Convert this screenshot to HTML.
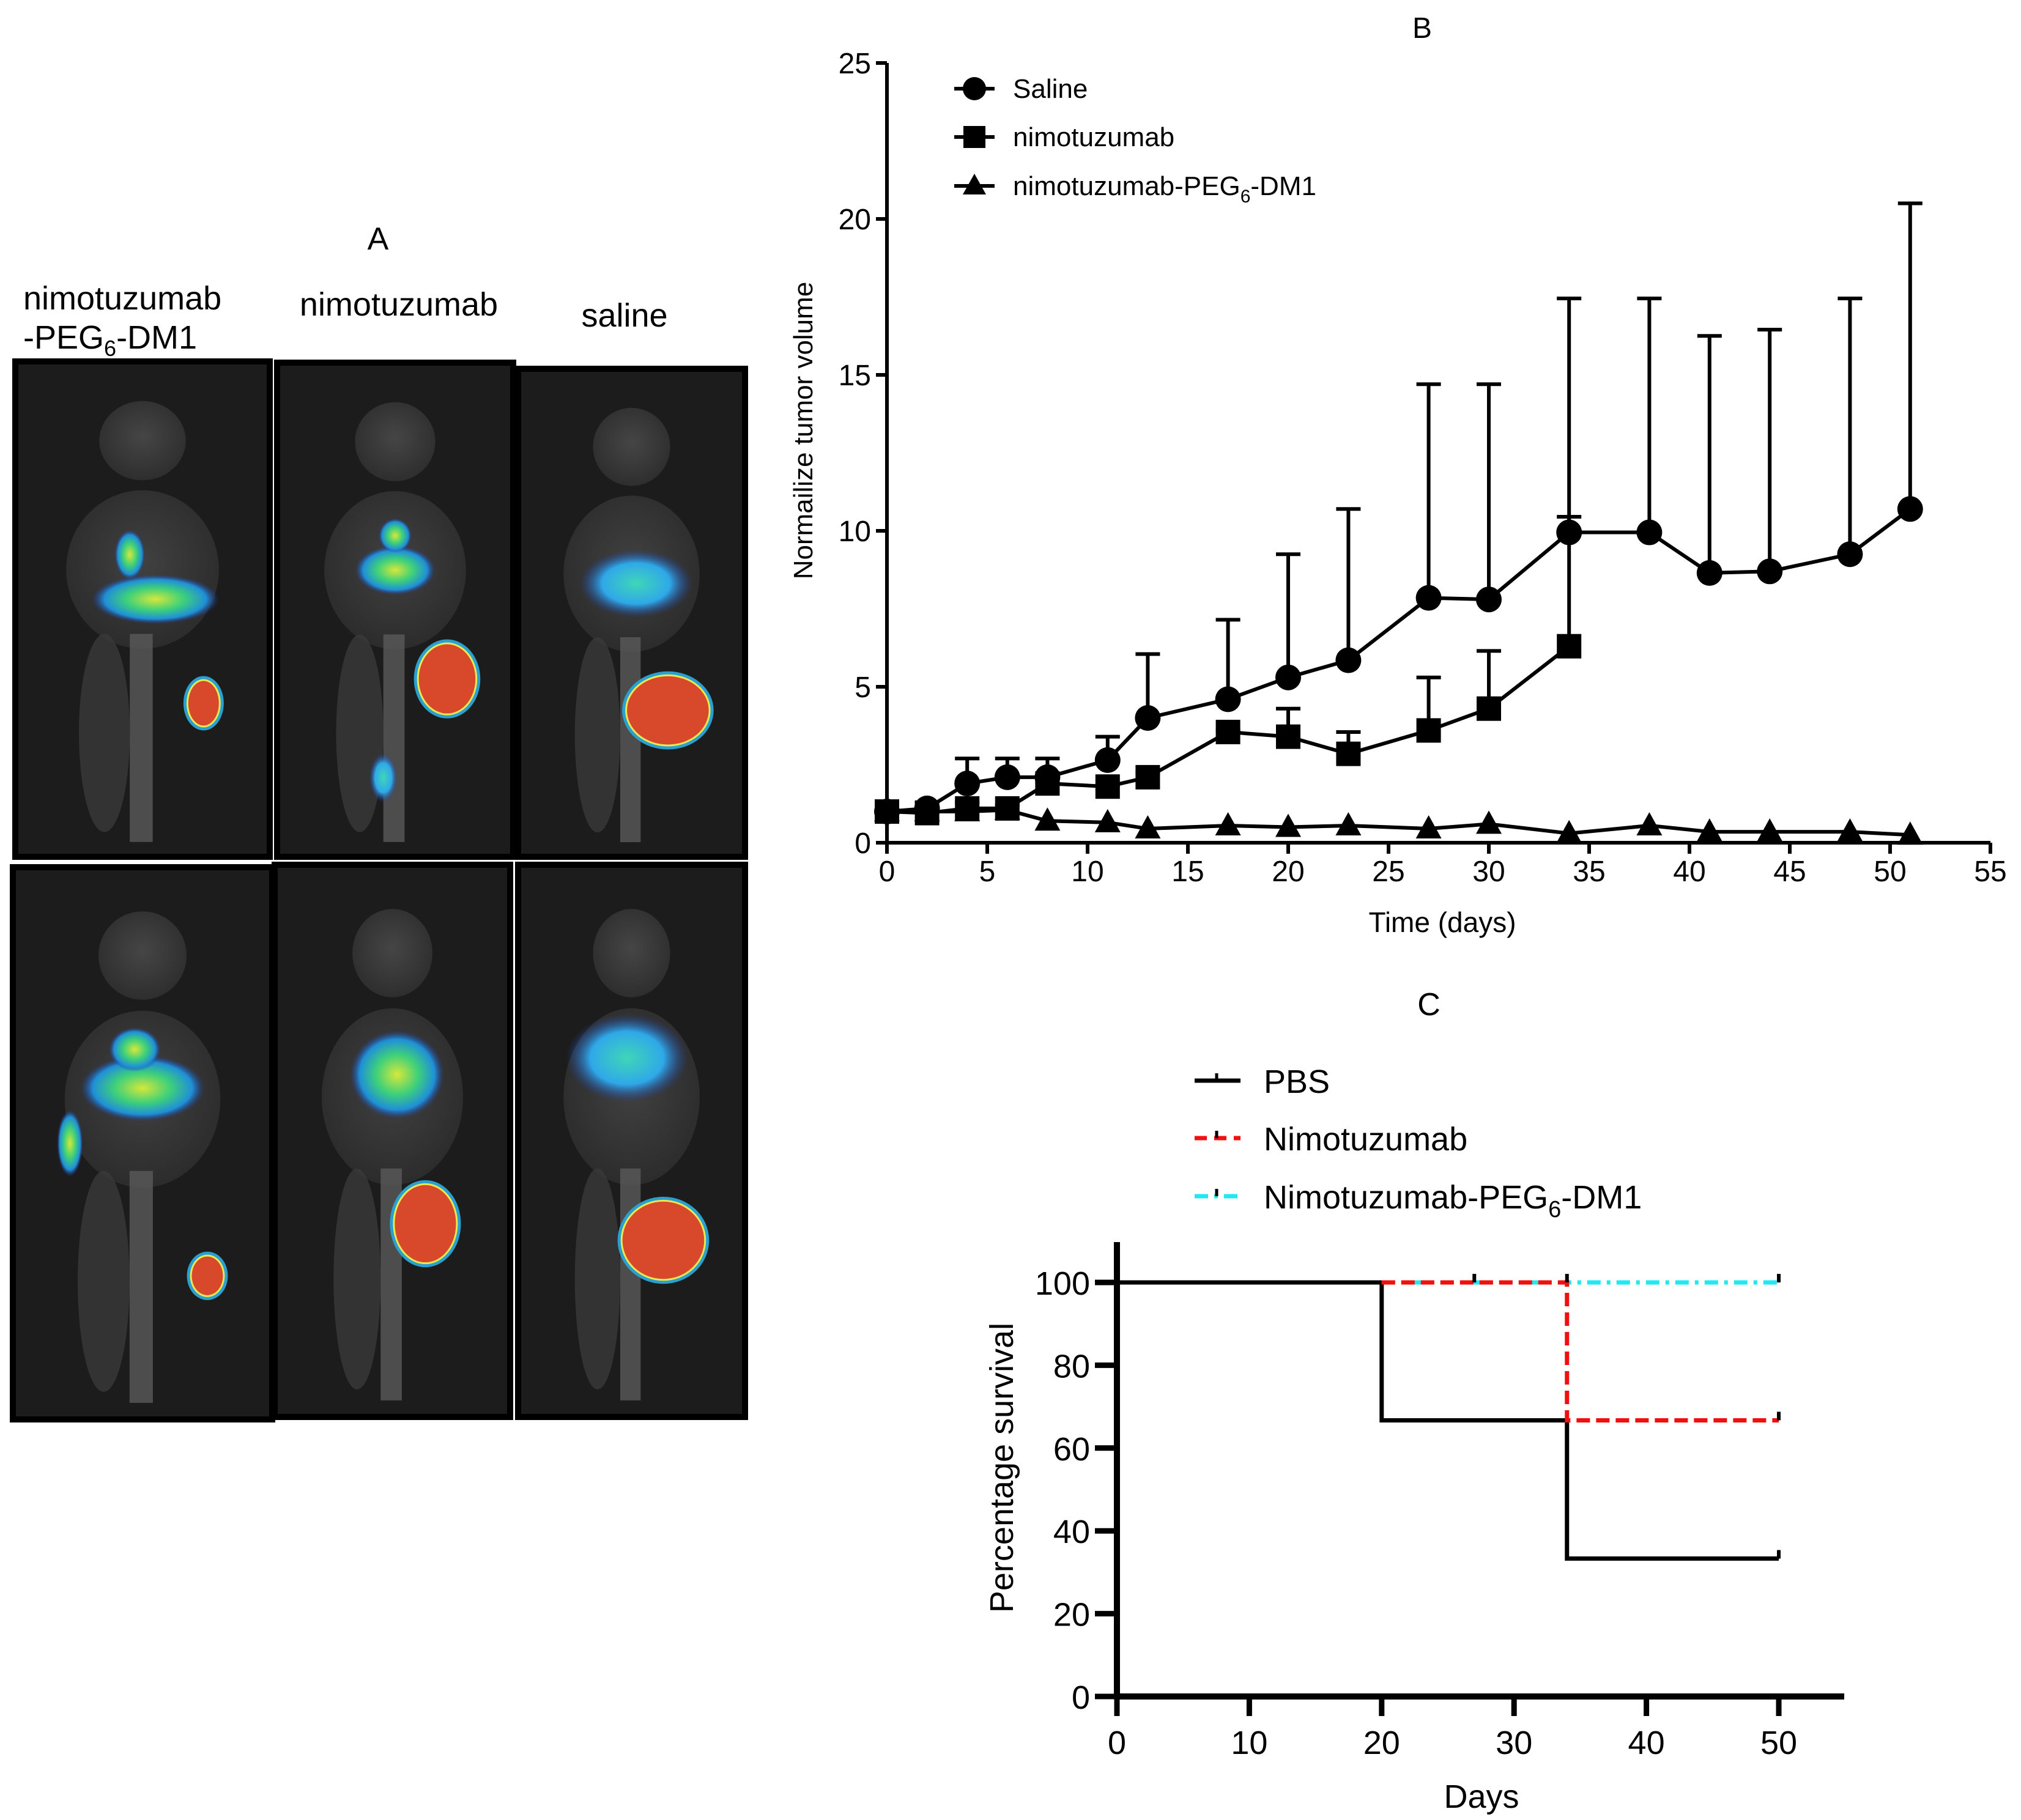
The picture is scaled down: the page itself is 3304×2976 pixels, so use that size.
<!DOCTYPE html>
<html><head><meta charset="utf-8"><style>
html,body{margin:0;padding:0;background:#fff;}
svg{display:block;font-family:"Liberation Sans",Arial,sans-serif;}
</style></head><body>
<svg id="fig" width="3304" height="2976" viewBox="0 0 3304 2976" xmlns="http://www.w3.org/2000/svg">
<defs>
<radialGradient id="organG" cx="50%" cy="50%" r="50%"><stop offset="0" stop-color="#d6e83a"/><stop offset="0.45" stop-color="#3ed07a"/><stop offset="0.8" stop-color="#1f8fd8"/><stop offset="1" stop-color="#1f3fa8" stop-opacity="0"/></radialGradient>
<radialGradient id="organB" cx="50%" cy="50%" r="50%"><stop offset="0" stop-color="#3fd6b8"/><stop offset="0.6" stop-color="#2fa8e8"/><stop offset="1" stop-color="#1f3fa8" stop-opacity="0"/></radialGradient>
<radialGradient id="body" cx="50%" cy="45%" r="55%"><stop offset="0" stop-color="#4a4a4a"/><stop offset="1" stop-color="#303030"/></radialGradient>
</defs>
<g id="panelA">
<text x="618" y="408" font-size="52" text-anchor="middle">A</text>
<text x="38" y="506" font-size="54">nimotuzumab</text>
<text x="38" y="570" font-size="54">-PEG<tspan font-size="36" dy="12">6</tspan><tspan dy="-12">-DM1</tspan></text>
<text x="652" y="516" font-size="54" text-anchor="middle">nimotuzumab</text>
<text x="1021" y="534" font-size="54" text-anchor="middle">saline</text>
</g>
<g id="chartB"></g>
<g id="chartC"></g>
</svg>
<script>
// ---------- Panel B data ----------
const bDaysSaline = [0,2,4,6,8,11,13,17,20,23,27,30,34,38,41,44,48,51];
const bSaline     = [1.0,1.1,1.9,2.1,2.1,2.65,4.0,4.6,5.3,5.85,7.85,7.8,9.95,9.95,8.65,8.7,9.25,10.7];
const bSalineErr  = [1.1,1.3,2.7,2.7,2.7,3.4,6.05,7.15,9.25,10.7,14.7,14.7,17.45,17.45,16.25,16.45,17.45,20.5];
const bDaysNimo   = [0,2,4,6,8,11,13,17,20,23,27,30,34];
const bNimo       = [1.0,0.95,1.1,1.1,1.9,1.8,2.1,3.55,3.4,2.85,3.6,4.3,6.3];
const bNimoErr    = [1.05,1.15,1.3,1.2,1.95,1.85,2.25,3.6,4.3,3.55,5.3,6.15,10.45];
const bDaysDM1    = [0,2,4,6,8,11,13,17,20,23,27,30,34,38,41,44,48,51];
const bDM1        = [1.0,1.0,1.0,1.05,0.7,0.65,0.45,0.55,0.5,0.55,0.45,0.6,0.3,0.55,0.35,0.35,0.35,0.25];
const bXTicks     = [0,5,10,15,20,25,30,35,40,45,50,55];
const bYTicks     = [0,5,10,15,20,25];
// ---------- Panel C data ----------
const cPBSx  = [0,20,20,34,34,50];
const cPBSy  = [100,100,66.7,66.7,33.3,33.3];
const cNimoX = [20,34,34,50];
const cNimoY = [100,100,66.7,66.7];
const cDM1X  = [20,50];
const cDM1Y  = [100,100];
const cCensorX = [27,34,50,50,50];
const cCensorY = [100,100,100,66.7,33.3];
const cXTicks = [0,10,20,30,40,50];
const cYTicks = [0,20,40,60,80,100];

const NS="http://www.w3.org/2000/svg";
function mk(parent,tag,attrs,text){const e=document.createElementNS(NS,tag);for(const k in attrs)e.setAttribute(k,attrs[k]);if(text!==undefined)e.textContent=text;parent.appendChild(e);return e;}

// ---------- Panel A images ----------
const pA=document.getElementById('panelA');
const boxes=[
 [25,591,416,810,{o:[[0.55,0.48,0.25,0.05,'organG'],[0.45,0.39,0.06,0.05,'organG']],t:[0.74,0.69,0.06,0.045]}],
 [453,593,386,808,{o:[[0.5,0.42,0.17,0.05,'organG'],[0.5,0.35,0.07,0.035,'organG'],[0.45,0.84,0.06,0.05,'organB']],t:[0.72,0.64,0.12,0.07]}],
 [847,603,371,798,{o:[[0.52,0.44,0.25,0.07,'organB']],t:[0.66,0.7,0.18,0.07]}],
 [21,1418,424,903,{o:[[0.5,0.4,0.24,0.06,'organG'],[0.47,0.33,0.1,0.04,'organG'],[0.22,0.5,0.05,0.06,'organG']],t:[0.75,0.74,0.06,0.035]}],
 [449,1414,385,903,{o:[[0.52,0.38,0.2,0.08,'organG']],t:[0.64,0.65,0.13,0.07]}],
 [847,1414,371,903,{o:[[0.48,0.35,0.27,0.08,'organB']],t:[0.64,0.68,0.18,0.07]}]
];
boxes.forEach((b,i)=>{
 const [x,y,w,h,c]=b;
 const g=mk(pA,'g',{});
 
 
 mk(g,'rect',{x:x,y:y,width:w,height:h,fill:'#1c1c1c',stroke:'#000','stroke-width':10});
 mk(g,'ellipse',{cx:x+w*0.5,cy:y+h*0.16,rx:w*0.17,ry:h*0.08,fill:'url(#body)',opacity:0.9});
 mk(g,'ellipse',{cx:x+w*0.5,cy:y+h*0.42,rx:w*0.3,ry:h*0.16,fill:'url(#body)',opacity:0.8});
 mk(g,'rect',{x:x+w*0.45,y:y+h*0.55,width:w*0.09,height:h*0.42,fill:'#5a5a5a',opacity:0.8});
 mk(g,'ellipse',{cx:x+w*0.35,cy:y+h*0.75,rx:w*0.1,ry:h*0.2,fill:'#3a3a3a',opacity:0.8});
 c.o.forEach(o=>mk(g,'ellipse',{cx:x+w*o[0],cy:y+h*o[1],rx:w*o[2],ry:h*o[3],fill:'url(#'+o[4]+')'}));
 const t=c.t;
 mk(g,'ellipse',{cx:x+w*t[0],cy:y+h*t[1],rx:w*t[2]+8,ry:h*t[3]+8,fill:'#2aa0d0'});
 mk(g,'ellipse',{cx:x+w*t[0],cy:y+h*t[1],rx:w*t[2]+3,ry:h*t[3]+3,fill:'#e8e850'});
 mk(g,'ellipse',{cx:x+w*t[0],cy:y+h*t[1],rx:w*t[2],ry:h*t[3],fill:'#d8482a'});
});

// ---------- Panel B ----------
(function(){
 const g=document.getElementById('chartB');
 const X0=1450,X1=3254,Y0=1378,Y1=103;
 const sx=d=>X0+(X1-X0)*d/55, sy=v=>Y0-(Y0-Y1)*v/25;
 const t=mk(g,'text',{x:2325,y:62,'font-size':48,'text-anchor':'middle'},'B');
 
 
 const ax=mk(g,'path',{d:`M${X0},${Y1} V${Y0} H${X1}`,fill:'none',stroke:'#000','stroke-width':6});
 
 
 bYTicks.forEach(v=>{
  mk(g,'line',{x1:X0-18,x2:X0,y1:sy(v),y2:sy(v),stroke:'#000','stroke-width':6});
  const l=mk(g,'text',{x:X0-26,y:sy(v)+17,'font-size':48,'text-anchor':'end'},v);
  
  
 });
 bXTicks.forEach(v=>{
  mk(g,'line',{x1:sx(v),x2:sx(v),y1:Y0,y2:Y0+18,stroke:'#000','stroke-width':6});
  const l=mk(g,'text',{x:sx(v),y:Y0+63,'font-size':48,'text-anchor':'middle'},v);
  
  
 });
 const xt=mk(g,'text',{x:2358,y:1524,'font-size':46,'text-anchor':'middle'},'Time (days)');
 
 
 const yt=mk(g,'text',{x:0,y:0,'font-size':44,'text-anchor':'middle',transform:'translate(1328,704) rotate(-90)'},'Normailize tumor volume');
 
 
 function err(days,vals,tops,name){
  days.forEach((d,i)=>{
   const e=mk(g,'path',{d:`M${sx(d)},${sy(vals[i])} V${sy(tops[i])} M${sx(d)-20},${sy(tops[i])} H${sx(d)+20}`,stroke:'#000','stroke-width':6,fill:'none'});
   
   
  });
 }
 function line(days,vals,name){
  const p=mk(g,'polyline',{points:days.map((d,i)=>sx(d)+','+sy(vals[i])).join(' '),fill:'none',stroke:'#000','stroke-width':6});
  
  
 }
 function marker(type,x,y,name){
  let m;
  if(type==='c') m=mk(g,'circle',{cx:x,cy:y,r:21,fill:'#000'});
  else if(type==='s') m=mk(g,'rect',{x:x-20,y:y-20,width:40,height:40,fill:'#000'});
  else m=mk(g,'polygon',{points:`${x},${y-22} ${x+21},${y+16} ${x-21},${y+16}`,fill:'#000'});
  
  
 }
 err(bDaysSaline,bSaline,bSalineErr,'saline');
 err(bDaysNimo,bNimo,bNimoErr,'nimotuzumab');
 line(bDaysDM1,bDM1,'dm1'); line(bDaysNimo,bNimo,'nimotuzumab'); line(bDaysSaline,bSaline,'saline');
 bDaysDM1.forEach((d,i)=>marker('t',sx(d),sy(bDM1[i]),'dm1-point'));
 bDaysNimo.forEach((d,i)=>marker('s',sx(d),sy(bNimo[i]),'nimotuzumab-point'));
 bDaysSaline.forEach((d,i)=>marker('c',sx(d),sy(bSaline[i]),'saline-point'));
 const leg=[['c','Saline',145],['s','nimotuzumab',224],['t','nimotuzumab-PEG',304]];
 leg.forEach(l=>{
  const lg=mk(g,'g',{});
  
  
  mk(lg,'line',{x1:1560,x2:1626,y1:l[2],y2:l[2],stroke:'#000','stroke-width':6});
  if(l[0]==='c') mk(lg,'circle',{cx:1593,cy:l[2],r:19,fill:'#000'});
  else if(l[0]==='s') mk(lg,'rect',{x:1575,y:l[2]-18,width:36,height:36,fill:'#000'});
  else mk(lg,'polygon',{points:`1593,${l[2]-20} 1612,${l[2]+14} 1574,${l[2]+14}`,fill:'#000'});
  const tx=mk(lg,'text',{x:1656,y:l[2]+15,'font-size':44},l[1]);
  if(l[0]==='t'){mk(tx,'tspan',{'font-size':30,dy:12},'6');mk(tx,'tspan',{dy:-12},'-DM1');}
 });
})();

// ---------- Panel C ----------
(function(){
 const g=document.getElementById('chartC');
 const X0=1826,Y0=2774;
 const sx=d=>X0+(2908-X0)*d/50, sy=v=>Y0-(Y0-2097)*v/100;
 const t=mk(g,'text',{x:2336,y:1660,'font-size':52,'text-anchor':'middle'},'C');
 
 
 const ax=mk(g,'path',{d:`M${X0},2031 V${Y0} H3015`,fill:'none',stroke:'#000','stroke-width':10});
 
 
 cYTicks.forEach(v=>{
  mk(g,'line',{x1:1790,x2:X0,y1:sy(v),y2:sy(v),stroke:'#000','stroke-width':9});
  const l=mk(g,'text',{x:1782,y:sy(v)+20,'font-size':54,'text-anchor':'end'},v);
  
  
 });
 cXTicks.forEach(v=>{
  mk(g,'line',{x1:sx(v),x2:sx(v),y1:Y0,y2:2806,stroke:'#000','stroke-width':9});
  const l=mk(g,'text',{x:sx(v),y:2868,'font-size':54,'text-anchor':'middle'},v);
  
  
 });
 const xt=mk(g,'text',{x:2422,y:2956,'font-size':54,'text-anchor':'middle'},'Days');
 
 
 const yt=mk(g,'text',{x:0,y:0,'font-size':54,'text-anchor':'middle',transform:'translate(1656,2400) rotate(-90)'},'Percentage survival');
 
 
 function step(xs,ys,color,dash,name){
  const p=mk(g,'polyline',{points:xs.map((d,i)=>sx(d)+','+sy(ys[i])).join(' '),fill:'none',stroke:color,'stroke-width':7,'stroke-dasharray':dash});
  
  
 }
 step(cPBSx,cPBSy,'#000','none','pbs-curve');
 step(cDM1X,cDM1Y,'#22e8f0','22 10 6 10','dm1-curve');
 step(cNimoX,cNimoY,'#f01010','22 10','nimotuzumab-curve');
 cCensorX.forEach((d,i)=>{
  const c=mk(g,'line',{x1:sx(d),x2:sx(d),y1:sy(cCensorY[i]),y2:sy(cCensorY[i])-14,stroke:'#000','stroke-width':6});
  
  
 });
 const leg=[['#000','none','PBS',1767],['#f01010','20 12','Nimotuzumab',1861],['#22e8f0','22 10 6 10','Nimotuzumab-PEG',1956]];
 leg.forEach(l=>{
  const lg=mk(g,'g',{});
  
  
  mk(lg,'line',{x1:1953,x2:2028,y1:l[3],y2:l[3],stroke:l[0],'stroke-width':7,'stroke-dasharray':l[1]});
  mk(lg,'line',{x1:1989,x2:1989,y1:l[3],y2:l[3]-12,stroke:'#000','stroke-width':5});
  const tx=mk(lg,'text',{x:2066,y:l[3]+20,'font-size':54},l[2]);
  if(l[2]==='Nimotuzumab-PEG'){mk(tx,'tspan',{'font-size':38,dy:14},'6');mk(tx,'tspan',{dy:-14},'-DM1');}
 });
})();
</script>
</body></html>
